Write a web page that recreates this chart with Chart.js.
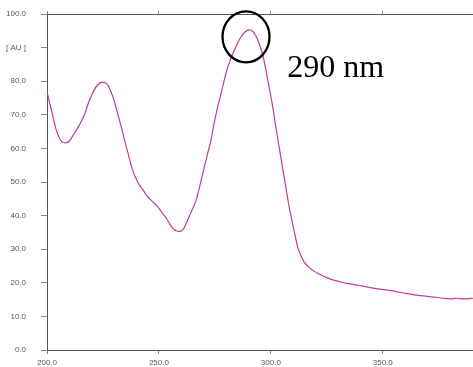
<!DOCTYPE html>
<html>
<head>
<meta charset="utf-8">
<script src="https://cdn.jsdelivr.net/npm/chart.js@4"></script>
<style>
html, body { margin: 0; padding: 0; background: #fff; }
#wrap { width: 473px; height: 367px; }
</style>
</head>
<body>
<div id="wrap"><canvas id="spectrum" width="473" height="367"></canvas></div>
<script>
// spectrum (nm / AU)
const wavelength = [200, 201.9, 204.1, 206, 208.3, 210, 212.3, 214.5, 216.7, 218.5, 220.4, 222.5, 224.9, 227, 228.5,
    230.1, 231.5, 233.1, 235, 236.5, 238, 240.5, 243, 245, 247.2, 249.5, 251.7, 253.5, 255, 256.5, 258, 259.2,
    260.5, 262.1, 264, 266.6, 268.5, 270.3, 271.8, 273.3, 274.5, 276.3, 278, 280, 282, 284.5, 286.5, 288.5,
    290.4, 292, 293.5, 294.9, 296.5, 297.9, 299.3, 300.8, 302.3, 303.8, 305.3, 306.8, 308.2, 309.7, 311, 312,
    313.5, 315, 316.8, 318.7, 321.5, 324.7, 328, 332.1, 336, 339.5, 343.5, 347.7, 352, 356, 360, 363.5, 368,
    373.9, 377, 380, 383, 386, 390.3];
const absorbance = [76.8, 71.6, 65.6, 62.5, 61.6, 62.2, 64.6, 67, 70, 73.5, 76.5, 78.8, 79.7, 79, 77,
    74, 70.5, 66.6, 61.5, 57.8, 54, 50, 47.5, 45.6, 44.1, 42.6, 40.6, 39, 37.3, 36, 35.4, 35.3,
    35.6, 37.6, 40.5, 44.6, 49.5, 54.6, 58.6, 62.6, 67, 72.5, 77, 82.5, 86.5, 90.5, 93, 94.7,
    95.3, 94.8, 93.2, 91, 87.5, 83, 78, 72.5, 66, 60, 54, 48, 42.5, 37.6, 33.5, 30.6,
    28, 26.1, 24.8, 23.7, 22.6, 21.6, 20.8, 20.1, 19.6, 19.2, 18.7, 18.2, 17.8, 17.4, 16.9, 16.5, 16.1,
    15.7, 15.4, 15.2, 15.4, 15.2, 15.4];

const xTicks = [200, 250, 300, 350];
const yTicks = [0, 10, 20, 30, 40, 50, 60, 70, 80, 90, 100];
const yTickLabels = ['0.0', '10.0', '20.0', '30.0', '40.0', '50.0', '60.0', '70.0', '80.0', '[ AU ]', '100.0'];
const peakLabel = '290 nm';

const axisFont = { family: 'Arial, "Liberation Sans", sans-serif', size: 8 };

// circle round the peak + the big label
const peakMark = {
    id: 'peakMark',
    afterDatasetsDraw(chart) {
        const { ctx, scales: { x, y } } = chart;
        ctx.save();
        ctx.strokeStyle = '#000';
        ctx.lineWidth = 2.3;
        ctx.beginPath();
        ctx.ellipse(x.getPixelForValue(288.9), y.getPixelForValue(93.2), 23.5, 25.5, 0, 0, Math.PI * 2);
        ctx.stroke();
        ctx.fillStyle = '#000';
        ctx.font = '32px "Liberation Serif", "Times New Roman", serif';
        ctx.textBaseline = 'alphabetic';
        ctx.fillText(peakLabel, x.getPixelForValue(307.3), y.getPixelForValue(81.2));
        ctx.restore();
    }
};

new Chart(document.getElementById('spectrum'), {
    type: 'line',
    data: {
        datasets: [{
            data: wavelength.map((w, i) => ({ x: w, y: absorbance[i] })),
            borderColor: '#c03c9c',
            borderWidth: 1.2,
            pointRadius: 0,
            cubicInterpolationMode: 'monotone',
            fill: false
        }]
    },
    options: {
        responsive: false,
        animation: false,
        layout: { padding: 0 },
        plugins: { legend: { display: false }, tooltip: { enabled: false } },
        scales: {
            x: {
                type: 'linear',
                position: 'bottom',
                min: 200,
                max: 390.3,
                afterBuildTicks: s => { s.ticks = xTicks.map(v => ({ value: v })); },
                afterFit: s => { s.height = 17; },
                ticks: { callback: v => v.toFixed(1), font: axisFont, color: '#555', padding: 4, maxRotation: 0, autoSkip: false },
                grid: { drawOnChartArea: false, tickLength: 4, color: '#888' },
                border: { color: '#555', width: 1 }
            },
            x2: {
                type: 'linear',
                position: 'top',
                display: true,
                min: 200,
                max: 390.3,
                afterBuildTicks: s => { s.ticks = xTicks.map(v => ({ value: v })); },
                afterFit: s => { s.height = 14; },
                ticks: { callback: () => '', font: axisFont, padding: 0 },
                grid: { drawOnChartArea: false, tickLength: 3, color: '#888' },
                border: { color: '#555', width: 1 }
            },
            y: {
                min: 0,
                max: 100,
                afterBuildTicks: s => { s.ticks = yTicks.map(v => ({ value: v })); },
                afterFit: s => { s.width = 47; s.paddingTop = 4; s.paddingBottom = 4; },
                ticks: { callback: (v, i) => yTickLabels[i], font: axisFont, color: '#555', padding: 15 },
                grid: { drawOnChartArea: false, tickLength: 6, color: '#888' },
                border: { color: '#555', width: 1 }
            }
        }
    },
    plugins: [peakMark]
});
</script>
</body>
</html>
